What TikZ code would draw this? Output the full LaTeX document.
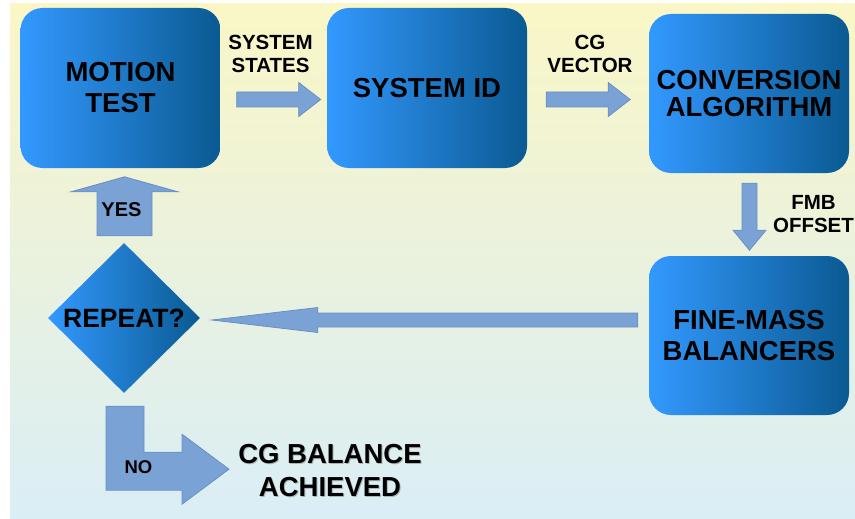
\documentclass[tikz,border=0pt]{standalone}
\usepackage{fontspec}
\setmainfont{Liberation Sans}
\usetikzlibrary{calc,shapes.geometric}

\definecolor{bgtop}{HTML}{FAF6C6}
\definecolor{bgbot}{HTML}{DAEEF6}
\definecolor{boxl}{HTML}{3399FF}
\definecolor{boxr}{HTML}{0A5A92}
\definecolor{arrfill}{HTML}{7BA2D4}
\definecolor{arrline}{HTML}{6890C6}

\tikzset{
  stage/.style={rectangle, rounded corners=22pt, minimum width=200pt,
    minimum height=160pt, left color=boxl, right color=boxr, inner sep=0pt,
    align=center, text=black, font=\bfseries\fontsize{27.5}{31}\selectfont},
  decision/.style={diamond, aspect=1, minimum width=152pt, minimum height=150pt,
    inner sep=0pt, left color=boxl, right color=boxr, text=black,
    font=\bfseries\fontsize{26.5}{30}\selectfont},
  flowlabel/.style={align=center, inner sep=0pt, text=black,
    font=\bfseries\fontsize{20.5}{23}\selectfont},
  result/.style={align=center, inner sep=0pt,
    font=\bfseries\fontsize{27.5}{33}\selectfont},
  blockarrow/.style={fill=arrfill, draw=arrline, line width=0.8pt, line join=miter},
  % block arrow pointing along local +x: length / shaft half width / head half width / head length
  pics/blockarr/.style args={#1/#2/#3/#4}{code={
    \draw[blockarrow] (0,-#2) -- ({#1-#4},-#2) -- ({#1-#4},-#3) -- (#1,0)
      -- ({#1-#4},#3) -- ({#1-#4},#2) -- (0,#2) -- cycle;}}
}

\begin{document}
\begin{tikzpicture}[x=1pt, y=-1pt]
  \useasboundingbox (0,0) rectangle (855,519);
  \fill[white] (0,0) rectangle (855,519);
  \fill[top color=bgtop, bottom color=bgbot] (10,4) rectangle (855,519);

  % process stages
  \node[stage] (mt)  at (120.5,88)  {MOTION\\TEST};
  \node[stage] (sid) at (427,88)    {SYSTEM ID};
  \node[stage, minimum height=159pt, font=\bfseries\fontsize{27.5}{27.5}\selectfont]
        (ca)  at (749,93.5)  {CONVERSION\\ALGORITHM};
  \node[stage, minimum height=159pt] (fmb) at (749,335.5) {FINE-MASS\\BALANCERS};
  \node[decision] (rep) at (124,318) {REPEAT?};

  % arrow tails
  \coordinate (t1) at ($(mt.east)+(16,11.5)$);
  \coordinate (t2) at ($(sid.east)+(19,11.5)$);
  \coordinate (t3) at ($(ca.south)+(0.5,10)$);
  \coordinate (t4) at ($(fmb.west)+(-11,-15.5)$);
  \coordinate (t5) at ($(rep.north)+(0.5,-7)$);
  \coordinate (t6) at ($(rep.south)+(-18,13)$);

  \pic at (t1) {blockarr=84/7.5/17/22};
  \pic at (t2) {blockarr=84/7.5/17/22};
  \pic[rotate=-90] at (t3) {blockarr=67/7.5/16.5/20};
  \pic[rotate=180] at (t4) {blockarr=426/7/12.5/106};
  \pic[rotate=90] at (t5) {blockarr=59/27.5/53.5/15};

  % bent "no" arrow
  \draw[blockarrow] (t6) -- ++(38,0) -- ++(0,46) -- ++(38,0) -- ++(0,-18)
    -- ++(47,35) -- ++(-47,35) -- ++(0,-14) -- ++(-76,0) -- cycle;

  % labels
  \node[flowlabel] (lss)  at (270.5,54)  {SYSTEM\\STATES};
  \node[flowlabel] (lcg)  at (590,54)    {CG\\VECTOR};
  \node[flowlabel] (lfmb) at (813.5,214) {FMB\\OFFSET};
  \node[flowlabel, font=\bfseries\fontsize{20}{23}\selectfont] (lyes) at (121.5,210) {YES};
  \node[flowlabel, font=\bfseries\fontsize{18.5}{22}\selectfont] (lno) at (138.5,467.5) {NO};

  \node[result, text=black!45, opacity=0.6] (doneshadow) at (331,471.5) {CG BALANCE\\ACHIEVED};
  \node[result, text=black] (done) at (330,470.5) {CG BALANCE\\ACHIEVED};
\end{tikzpicture}
\end{document}
